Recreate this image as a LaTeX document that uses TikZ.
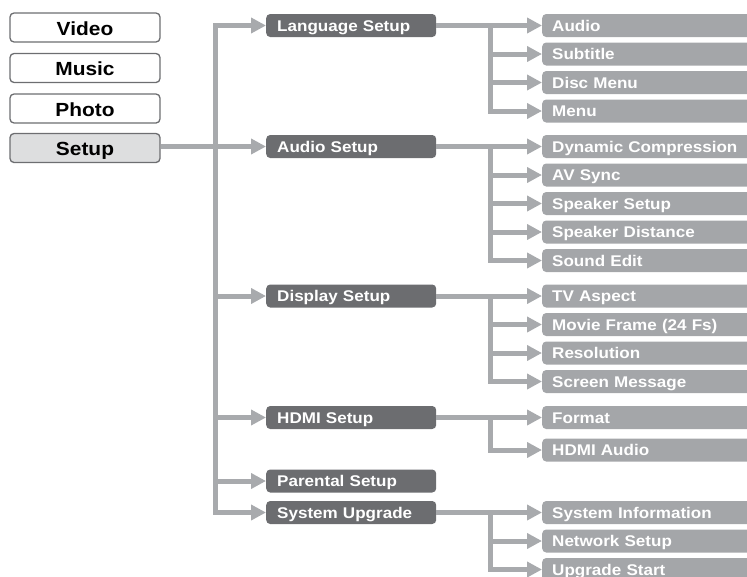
\documentclass[tikz,border=0pt]{standalone}
\usepackage{fontspec}
\setmainfont{Liberation Sans}[FakeStretch=1.1]
\usepackage{tikz}
\usetikzlibrary{positioning,arrows.meta}
\definecolor{cline}{HTML}{A8AAAD}
\definecolor{cdark}{HTML}{6C6D70}
\definecolor{citem}{HTML}{A4A6A9}
\definecolor{cedge}{HTML}{6D6E71}
\definecolor{csel}{HTML}{DDDEDF}

\begin{document}
\begin{tikzpicture}[
  x=1pt, y=-1pt,
  >={Triangle[length=15pt,width=15pt]},
  mode/.style={draw=cedge, line width=1.3pt, rounded corners=4pt, fill=white,
               minimum width=150pt, minimum height=29pt, inner sep=0pt,
               text height=17pt, text depth=2pt,
               font=\fontsize{19}{22}\selectfont\bfseries},
  sel/.style={mode, fill=csel},
  menu/.style={fill=cdark, text=white, rounded corners=4pt, anchor=west, align=left,
               text width=148pt, minimum height=23pt, inner xsep=11pt, inner ysep=0pt,
               text height=13.5pt, text depth=2pt,
               font=\fontsize{15.5}{18}\selectfont\bfseries},
  item/.style={menu, fill=citem, text width=220pt, inner xsep=10pt},
  flow/.style={->, line width=5pt, draw=cline},
]
\useasboundingbox (0,0) rectangle (747,576);
\clip (0,0) rectangle (747,576);

% ---- main modes ----
\node[mode] (video) at (85,27.5) {Video};
\node[mode] (music) at (85,68) {Music};
\node[mode] (photo) at (85,108.5) {Photo};
\node[sel] (setup) at (85,148) {Setup};

% ---- setup pages ----
\node[menu] (lang)   at (266,25.5)  {Language Setup};
\node[menu] (audset) at (266,146.5) {Audio Setup};
\node[menu] (disp)   at (266,296)   {Display Setup};
\node[menu] (hdmi)   at (266,417.5) {HDMI Setup};
\node[menu] (parent) at (266,481)   {Parental Setup};
\node[menu] (sysup)  at (266,512.5) {System Upgrade};

% ---- options ----
\node[item] (audio) at (542,25.5) {Audio};
\node[item] (subt)  at (542,54)   {Subtitle};
\node[item] (disc)  at (542,82.5) {Disc Menu};
\node[item] (mnu)   at (542,111)  {Menu};

\node[item] (dyn)  at (542,146.5) {Dynamic Compression};
\node[item] (avs)  at (542,175)   {AV Sync};
\node[item] (spk)  at (542,203.5) {Speaker Setup};
\node[item] (dist) at (542,232)   {Speaker Distance};
\node[item] (snd)  at (542,260.5) {Sound Edit};

\node[item] (tva)   at (542,296)   {TV Aspect};
\node[item] (movie) at (542,324.5) {Movie Frame (24 Fs)};
\node[item] (reso)  at (542,353)   {Resolution};
\node[item] (scrn)  at (542,381.5) {Screen Message};

\node[item] (fmt)     at (542,417.5) {Format};
\node[item] (hdmiaud) at (542,450)   {HDMI Audio};

\node[item] (sysinfo) at (542,512.5) {System Information};
\node[item] (net)     at (542,541)   {Network Setup};
\node[item] (upg)     at (542,569.5) {Upgrade Start};

% ---- trunk ----
\coordinate (tr) at (215,0);
\coordinate (br) at (490,0);
\draw[flow] (setup.east |- audset.west) -- (audset.west);
\draw[flow] (tr |- sysup) -- (tr |- lang) -- (lang.west);
\draw[flow] (tr |- lang) -- (tr |- sysup) -- (sysup.west);
\draw[flow] (tr |- disp) -- (disp.west);
\draw[flow] (tr |- hdmi) -- (hdmi.west);
\draw[flow] (tr |- parent) -- (parent.west);

% ---- branches ----
\draw[flow] (lang.east) -- (audio.west);
\draw[flow] (lang.east -| br) |- (subt.west);
\draw[flow] (lang.east -| br) |- (disc.west);
\draw[flow] (lang.east -| br) |- (mnu.west);

\draw[flow] (audset.east) -- (dyn.west);
\draw[flow] (audset.east -| br) |- (avs.west);
\draw[flow] (audset.east -| br) |- (spk.west);
\draw[flow] (audset.east -| br) |- (dist.west);
\draw[flow] (audset.east -| br) |- (snd.west);

\draw[flow] (disp.east) -- (tva.west);
\draw[flow] (disp.east -| br) |- (movie.west);
\draw[flow] (disp.east -| br) |- (reso.west);
\draw[flow] (disp.east -| br) |- (scrn.west);

\draw[flow] (hdmi.east) -- (fmt.west);
\draw[flow] (hdmi.east -| br) |- (hdmiaud.west);

\draw[flow] (sysup.east) -- (sysinfo.west);
\draw[flow] (sysup.east -| br) |- (net.west);
\draw[flow] (sysup.east -| br) |- (upg.west);
\end{tikzpicture}
\end{document}
